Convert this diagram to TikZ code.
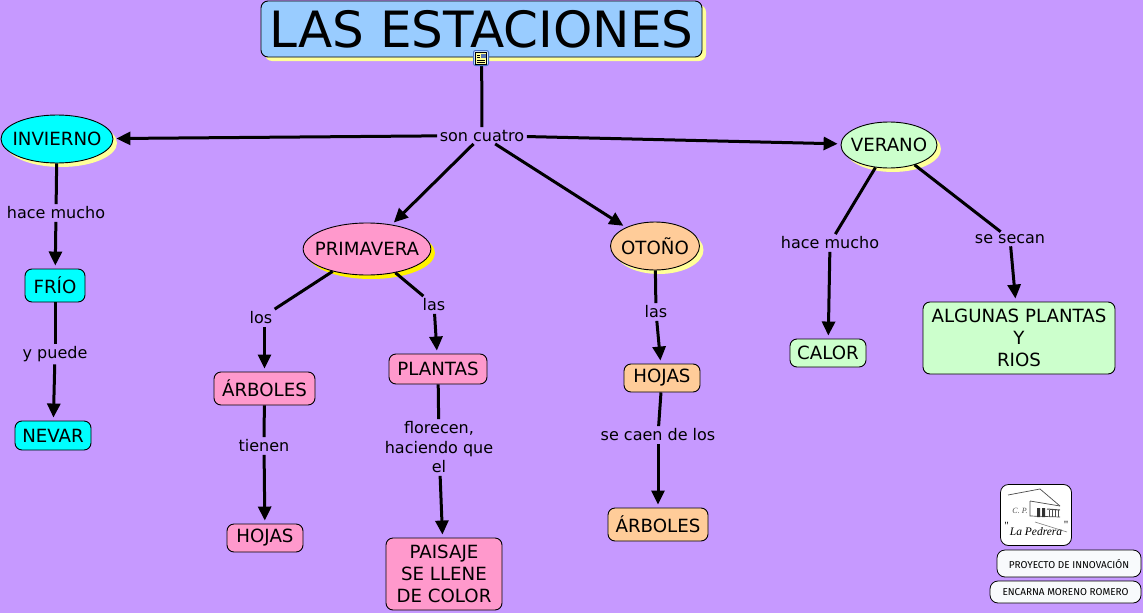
\documentclass[tikz,border=0pt]{standalone}
\usepackage{fontspec}
\setmainfont{DejaVu Sans}
\newfontfamily\smallfont{Fira Sans}
\newfontfamily\logofont{Liberation Serif}
\usepackage{xcolor}
\usetikzlibrary{shapes.geometric, arrows.meta, shadows}
\definecolor{mybg}{RGB}{198,153,255}
\definecolor{myblue}{RGB}{153,204,255}
\definecolor{mycyan}{RGB}{0,255,255}
\definecolor{mypink}{RGB}{255,153,204}
\definecolor{myorange}{RGB}{255,204,153}
\definecolor{mygreen}{RGB}{204,255,204}
\definecolor{myshade}{RGB}{255,255,153}
\definecolor{mywhite}{RGB}{248,250,252}
\definecolor{myicon}{RGB}{70,110,200}
\newcommand{\pxfont}[1]{\fontsize{#1}{#1}\selectfont}
\tikzset{
  softshade/.style={drop shadow={shadow xshift=4pt, shadow yshift=-4pt, fill=myshade, opacity=1}},
  boldshade/.style={drop shadow={shadow xshift=4pt, shadow yshift=-4pt, fill=yellow, opacity=1}},
  ellnode/.style={ellipse, draw=black, line width=0.9pt, inner xsep=-7pt, inner ysep=0pt, align=center,
    font=\pxfont{18.2}},
  boxnode/.style={rectangle, draw=black, line width=0.9pt, rounded corners=7pt, inner sep=0pt,
    align=center, font=\pxfont{18.2}},
  linknode/.style={inner sep=2.5pt, align=center, font=\pxfont{16}},
  footbox/.style={rectangle, draw=black, line width=0.8pt, fill=mywhite, rounded corners=8pt,
    inner sep=0pt, font=\smallfont\pxfont{10}},
  logotext/.style={inner sep=0pt, font=\logofont\itshape\pxfont{11.5}},
  arrow/.style={-{Triangle[length=14pt,width=13pt]}, line width=3pt, shorten >=3pt},
  line/.style={line width=3pt}
}

\begin{document}
\begin{tikzpicture}[x=1pt, y=-1pt]
  \useasboundingbox (0,0) rectangle (1143,613);
  \fill[mybg] (0,0) rectangle (1143,613);
  % Title
  \node (title) at (481.5,29) [boxnode, softshade, fill=myblue, minimum width=441pt, minimum height=56pt,
    font=\pxfont{50}] {LAS ESTACIONES};
  \node (son) at (482,135.5) [linknode] {son cuatro};
  % Ellipses
  \node (invierno) at (57,139) [ellnode, softshade, fill=mycyan, minimum width=112pt, minimum height=48pt] {INVIERNO};
  \node (primavera) at (367,249) [ellnode, boldshade, fill=mypink, minimum width=126pt, minimum height=52pt] {PRIMAVERA};
  \node (otono) at (655,246) [ellnode, softshade, fill=myorange, minimum width=89pt, minimum height=48pt] {OTOÑO};
  \node (verano) at (889,145) [ellnode, softshade, fill=mygreen, minimum width=96pt, minimum height=46pt] {VERANO};
  % Invierno branch
  \node (hacea) at (56,213) [linknode] {hace mucho};
  \node (frio) at (55,285.5) [boxnode, fill=mycyan, minimum width=60pt, minimum height=33pt] {FRÍO};
  \node (puede) at (55,354) [linknode] {y puede};
  \node (nevar) at (53,435.5) [boxnode, fill=mycyan, minimum width=76pt, minimum height=29pt] {NEVAR};
  % Primavera branch
  \node (los) at (261,318) [linknode] {los};
  \node (lasa) at (434,305) [linknode] {las};
  \node (arbolesa) at (264.5,388.5) [boxnode, fill=mypink, minimum width=101pt, minimum height=33pt] {ÁRBOLES};
  \node (plantas) at (438,369) [boxnode, fill=mypink, minimum width=98pt, minimum height=30pt] {PLANTAS};
  \node (tienen) at (264,446) [linknode] {tienen};
  \node (florecen) at (439,447.5) [linknode] {florecen,\\[3.5pt]haciendo que\\[3.5pt]el};
  \node (hojasa) at (265,538) [boxnode, fill=mypink, minimum width=76pt, minimum height=28pt] {HOJAS};
  \node (paisaje) at (444,574) [boxnode, fill=mypink, minimum width=116pt, minimum height=72pt] {PAISAJE\\[4pt]SE LLENE\\[4pt]DE COLOR};
  % Otono branch
  \node (lasb) at (656,312) [linknode] {las};
  \node (hojasb) at (662,378) [boxnode, fill=myorange, minimum width=76pt, minimum height=28pt] {HOJAS};
  \node (caen) at (658,435) [linknode] {se caen de los};
  \node (arbolesb) at (658,524.5) [boxnode, fill=myorange, minimum width=100pt, minimum height=33pt] {ÁRBOLES};
  % Verano branch
  \node (haceb) at (830,243) [linknode] {hace mucho};
  \node (secan) at (1010,239) [linknode] {se secan};
  \node (calor) at (828,353) [boxnode, fill=mygreen, minimum width=76pt, minimum height=28pt] {CALOR};
  \node (algunas) at (1019,338) [boxnode, fill=mygreen, minimum width=192pt, minimum height=72pt] {ALGUNAS PLANTAS\\[4pt]Y\\[4pt]RIOS};
  % Links
  \draw[line] (title) -- (son);
  \draw[arrow] (son) -- (invierno);
  \draw[arrow] (son) -- (verano);
  \draw[arrow] (son) -- (primavera);
  \draw[arrow] (son) -- (otono);
  \draw[line] (invierno) -- (hacea);
  \draw[arrow] (hacea) -- (frio);
  \draw[line] (frio) -- (puede);
  \draw[arrow] (puede) -- (nevar);
  \draw[line] (primavera) -- (los);
  \draw[line] (primavera) -- (lasa);
  \draw[arrow] (los.south -| arbolesa.north) -- (arbolesa.north);
  \draw[arrow] (lasa) -- (plantas);
  \draw[line] (arbolesa) -- (tienen);
  \draw[arrow] (tienen) -- (hojasa);
  \draw[line] (plantas) -- (florecen);
  \draw[arrow] (florecen) -- (paisaje);
  \draw[line] (otono) -- (lasb);
  \draw[arrow] (lasb) -- (hojasb);
  \draw[line] (hojasb) -- (caen);
  \draw[arrow] (caen) -- (arbolesb);
  \draw[line] (verano) -- (haceb);
  \draw[line] (verano) -- (secan);
  \draw[arrow] (haceb) -- (calor);
  \draw[arrow] (secan) -- (algunas);
  % Note icon on the title
  \node (icon) at (481,58) [rectangle, draw=myicon, fill=myblue!40, line width=1pt,
    rounded corners=2pt, minimum size=15pt, inner sep=0pt] {};
  \fill[myshade] (475.5,52.5) rectangle (486.5,64);
  \draw[black, line width=0.8pt] (475.5,52.5) rectangle (486.5,64);
  \draw[black, line width=0.7pt] (477,55) -- (480,55) (477,57.5) -- (480,57.5) (477,60) -- (485,60) (477,62) -- (485,62);
  \fill[myicon!70!gray] (481,53.5) rectangle (485.5,58);
  % School logo
  \node (logo) at (1036,515) [rectangle, draw=black, line width=0.8pt, fill=white, rounded corners=8pt,
    minimum width=71pt, minimum height=61pt, inner sep=0pt] {};
  \draw[black!70, line width=0.7pt] (1008,495) -- (1040,489) -- (1060,506);
  \draw[black!70, line width=0.7pt] (1030,501) -- (1060,506) (1030,501) -- (1030,516) -- (1060,517);
  \fill[black!80] (1037,508) rectangle (1040,517) (1042,508) rectangle (1045,517);
  \draw[black!70, line width=1pt] (1047,509) -- (1060,510);
  \draw[black!70, line width=0.6pt] (1049,510) -- (1049,517) (1052,510) -- (1052,517) (1055,510) -- (1055,517) (1058,510) -- (1058,517);
  \draw[black!50, line width=0.6pt] (1035,522) -- (1067,532);
  \node (cp) at (1020,511) [logotext, font=\logofont\itshape\pxfont{8}, text=black!70] {C. P.};
  \node (pedrera) at (1036,532) [logotext] {La Pedrera};
  \node (quotea) at (1006.5,526) [logotext, font=\logofont\pxfont{11}] {"};
  \node (quoteb) at (1066,525) [logotext, font=\logofont\pxfont{11}] {"};
  % Credits
  \node (proyecto) at (1069,563.5) [footbox, minimum width=144pt, minimum height=27pt] {PROYECTO DE INNOVACIÓN};
  \node (encarna) at (1065.5,592) [footbox, minimum width=151pt, minimum height=22pt] {ENCARNA MORENO ROMERO};
\end{tikzpicture}
\end{document}
